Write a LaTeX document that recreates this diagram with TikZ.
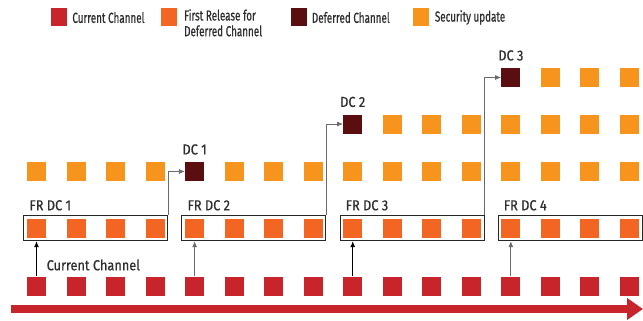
\documentclass[tikz,border=0pt]{standalone}
\usepackage{fontspec}
\setmainfont{Fira Sans}[FakeStretch=0.68,FakeBold=0.6]
\newfontfamily\diagfont{Fira Sans}[FakeStretch=0.88,FakeBold=0.6]
\usetikzlibrary{arrows.meta,positioning,fit,calc}
\definecolor{ccred}{HTML}{C8242B}
\definecolor{frorange}{HTML}{F26522}
\definecolor{dcdark}{HTML}{5A0E10}
\definecolor{suorange}{HTML}{F7941D}
\definecolor{linegray}{HTML}{6A6A6A}
\definecolor{textgray}{HTML}{2E2E2E}

\begin{document}
\begin{tikzpicture}[x=1pt,y=-1pt,>={Latex[length=6pt,width=5pt]},
    sq/.style={minimum size=19pt,inner sep=0pt,fill=#1},
    lsq/.style={minimum width=16pt,minimum height=18pt,inner sep=0pt,fill=#1},
    lbl/.style={font=\fontsize{14.5}{15.7}\selectfont,text=textgray,inner sep=0pt},
    dlbl/.style={lbl,font=\diagfont\fontsize{14.5}{15.7}\selectfont},
    frbox/.style={draw=black!85,line width=1pt,inner sep=3pt}]
  \useasboundingbox (0,0) rectangle (643,321);
  % legenda
  \node[lsq=ccred] (lg1) at (59,17.5) {};
  \node[lsq=frorange] (lg2) at (169,17.5) {};
  \node[lsq=dcdark] (lg3) at (298.5,17.5) {};
  \node[lsq=suorange] (lg4) at (420.5,17.5) {};
  \node[lbl,right=5pt of lg1] {Current Channel};
  \node[lbl,anchor=north west,align=left] at (184,9) {First Release for\\Deferred Channel};
  \node[lbl,right=5pt of lg3] {Deferred Channel};
  \node[lbl,right=6pt of lg4] {Security update};
  % linhas de quadrados
  \foreach \i in {1,...,16} {
    \node[sq=ccred] (cc\i) at ({36.5+(\i-1)*39.53},286) {};
    \node[sq=frorange] (fr\i) at ({36.5+(\i-1)*39.53},228) {};
  }
  \foreach \i in {1,2,3,4,6,7,8,9,10,11,12,13,14,15,16}
    \node[sq=suorange] (sa\i) at ({36.5+(\i-1)*39.53},171.5) {};
  \foreach \i in {10,...,16}
    \node[sq=suorange] (sb\i) at ({36.5+(\i-1)*39.53},124) {};
  \foreach \i in {14,15,16}
    \node[sq=suorange] (sc\i) at ({36.5+(\i-1)*39.53},77.5) {};
  % deferred channel
  \node[sq=dcdark] (dc1) at ({36.5+4*39.53},171.5) {};
  \node[sq=dcdark] (dc2) at ({36.5+8*39.53},124) {};
  \node[sq=dcdark] (dc3) at ({36.5+12*39.53},77.5) {};
  \foreach \d in {1,2,3}
    \node[dlbl,above=7pt of dc\d] {DC \d};
  % caixas FR DC
  \foreach \b/\f/\l in {1/1/4,2/5/8,3/9/12,4/13/16} {
    \node[frbox,fit=(fr\f)(fr\l)] (box\b) {};
    \node[dlbl,anchor=base west] at ($(box\b.north west)+(6,-4.5)$) {FR DC \b};
  }
  % setas
  \foreach \b/\f/\c in {1/1/black,2/5/linegray,3/9/black,4/13/linegray}
    \draw[->,\c,line width=0.8pt] (cc\f.north) -- (cc\f.north |- box\b.south);
  \node[dlbl,anchor=base west] at ($(cc1.north)+(10,-6)$) {Current Channel};
  \foreach \b in {1,2,3}
    \draw[->,linegray,line width=0.8pt] (box\b.north east) |- (dc\b.west);
  % eixo do tempo
  \coordinate (t0) at (11,309);
  \coordinate (t1) at (643,309);
  \draw[ccred,line width=8pt,-{Triangle[length=16pt,width=21pt]}] (t0) -- (t1);
\end{tikzpicture}
\end{document}
